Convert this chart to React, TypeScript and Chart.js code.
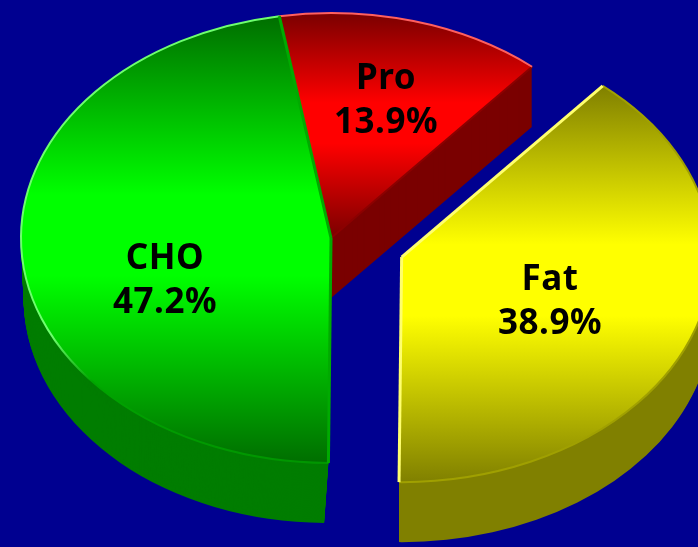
import React, { useEffect, useRef } from "react";
import { Chart, registerables } from "chart.js";

Chart.register(...registerables);

const categories = ["Pro", "Fat", "CHO"];
const shares = [13.9, 38.9, 47.2];
const explode = [0, 179, 0];
const brightColors = ["rgb(255,0,0)", "rgb(255,255,0)", "rgb(0,255,0)"];
const darkColors = ["rgb(122,0,0)", "rgb(128,128,0)", "rgb(0,110,0)"];
const sideColors = ["rgb(122,0,0)", "rgb(128,128,0)", "rgb(0,125,0)"];
const sideTaper = [0, 0, 0.022];

const CX = 331, CY = 238, RX = 310, RY = 225, DEPTH = 60, TAPER_ANCHOR = 136;
const labelCentres = [
  { x: 386, y: 101 },
  { x: 550, y: 302 },
  { x: 165, y: 281 },
];

const FONT = "bold 35px 'Noto Sans'";

let baseRadius = 1;
let trueAngles: { start: number; end: number }[] = [];

function shift(arc: any) {
  const off = (arc.options.offset || 0) / 4;
  const mid = (arc.startAngle + arc.endAngle) / 2;
  return { dx: Math.cos(mid) * off, dy: Math.sin(mid) * off };
}

function applyMap(ctx: CanvasRenderingContext2D, arc: any, d = 0, k = 1) {
  const s = RX / baseRadius;
  const sy = RY / baseRadius;
  ctx.translate(TAPER_ANCHOR + k * (CX - TAPER_ANCHOR), CY + d);
  ctx.scale(s * k, sy);
  ctx.translate(-arc.x, -arc.y);
}

// Range of the slice in its own (already exploded) frame: the arc translates before filling.
function yRange(arc: any, angles: { start: number; end: number }) {
  let lo = arc.y, hi = arc.y;
  for (let i = 0; i <= 120; i++) {
    const a = angles.start + ((angles.end - angles.start) * i) / 120;
    const y = arc.y + baseRadius * Math.sin(a);
    lo = Math.min(lo, y);
    hi = Math.max(hi, y);
  }
  return { lo, hi };
}

const edgeLine = (
  ctx: CanvasRenderingContext2D,
  arc: any,
  from: number,
  to: number,
  style: string | CanvasGradient,
  width: number
) => {
  const { dx, dy } = shift(arc);
  ctx.save();
  applyMap(ctx, arc);
  ctx.beginPath();
  ctx.arc(arc.x + dx, arc.y + dy, baseRadius, from, to);
  ctx.restore();
  ctx.strokeStyle = style;
  ctx.lineWidth = width;
  ctx.stroke();
};

const radialLine = (
  ctx: CanvasRenderingContext2D,
  arc: any,
  angle: number,
  style: string,
  width: number
) => {
  const { dx, dy } = shift(arc);
  ctx.save();
  applyMap(ctx, arc);
  ctx.beginPath();
  ctx.moveTo(arc.x + dx, arc.y + dy);
  ctx.lineTo(arc.x + dx + baseRadius * Math.cos(angle), arc.y + dy + baseRadius * Math.sin(angle));
  ctx.restore();
  ctx.strokeStyle = style;
  ctx.lineWidth = width;
  ctx.lineCap = "butt";
  ctx.stroke();
};

const pie3d = {
  id: "pie3d",
  beforeDatasetsDraw(chart: any) {
    const ctx: CanvasRenderingContext2D = chart.ctx;
    const arcs = chart.getDatasetMeta(0).data;
    baseRadius = arcs[0].outerRadius;
    trueAngles = arcs.map((a: any) => ({ start: a.startAngle, end: a.endAngle }));

    arcs.forEach((arc: any, i: number) => {
      // Chart.js widens an exploded slice's radius and narrows its sweep; undo both
      // so that every slice lies on one radius with its true angles.
      const off = (arc.options.offset || 0) / 4;
      const fix = 1 - Math.sin(Math.min(Math.PI, arc.circumference || 0));
      const radOff = off * fix;
      arc.outerRadius = baseRadius - radOff;
      const widen = radOff / Math.PI / baseRadius / 2;
      arc.startAngle -= widen;
      arc.endAngle += widen;
      const { lo, hi } = yRange(arc, trueAngles[i]);
      const g = ctx.createLinearGradient(0, lo, 0, hi);
      g.addColorStop(0, darkColors[i]);
      g.addColorStop(0.4, brightColors[i]);
      g.addColorStop(0.58, brightColors[i]);
      g.addColorStop(1, darkColors[i]);
      arc.options = { ...arc.options, backgroundColor: g };
    });

    for (let d = DEPTH; d >= 1; d--) {
      arcs.forEach((arc: any, i: number) => {
        const saved = arc.options;
        arc.options = { ...saved, backgroundColor: sideColors[i] };
        ctx.save();
        applyMap(ctx, arc, d, 1 - (sideTaper[i] * d) / DEPTH);
        arc.draw(ctx);
        ctx.restore();
        arc.options = saved;
      });
    }

    ctx.save();
    applyMap(ctx, arcs[0]);
  },
  afterDatasetsDraw(chart: any) {
    const ctx: CanvasRenderingContext2D = chart.ctx;
    ctx.restore();
    const [pro, fat, cho] = chart.getDatasetMeta(0).data;
    const [proA, fatA, choA] = trueAngles;

    // Pro edges
    radialLine(ctx, pro, proA.end, "rgb(140,0,0)", 2);
    edgeLine(ctx, pro, proA.start, proA.end, "rgb(255,95,95)", 2);

    // Fat edges
    edgeLine(ctx, fat, fatA.start, fatA.end, "rgb(160,160,0)", 2);
    radialLine(ctx, fat, fatA.start, "rgb(255,255,110)", 3);
    radialLine(ctx, fat, fatA.end, "rgb(255,255,110)", 3);

    // CHO edges
    const rim = ctx.createLinearGradient(0, 13, 0, 462);
    rim.addColorStop(0, "rgb(110,255,110)");
    rim.addColorStop(0.72, "rgb(110,255,110)");
    rim.addColorStop(0.82, "rgb(0,165,0)");
    rim.addColorStop(1, "rgb(0,150,0)");
    edgeLine(ctx, cho, choA.start, choA.end, rim, 2);
    radialLine(ctx, cho, choA.start, "rgb(0,170,0)", 3);
    radialLine(ctx, cho, choA.end, "rgb(0,170,0)", 3);

    // Labels
    ctx.fillStyle = "#000000";
    ctx.font = FONT;
    (ctx as any).letterSpacing = "0.5px";
    ctx.textAlign = "center";
    ctx.textBaseline = "middle";
    categories.forEach((name, i) => {
      const p = labelCentres[i];
      ctx.fillText(name, p.x, p.y - 22);
      ctx.fillText(`${shares[i].toFixed(1)}%`, p.x, p.y + 22);
    });
  },
};

export default function App() {
  const ref = useRef<HTMLCanvasElement | null>(null);
  useEffect(() => {
    if (!ref.current) return;
    const chart = new Chart(ref.current, {
      type: "pie",
      data: {
        labels: categories,
        datasets: [
          {
            data: shares,
            backgroundColor: brightColors,
            borderWidth: 0,
            offset: explode,
            clip: false,
          } as any,
        ],
      },
      options: {
        responsive: false,
        animation: false,
        rotation: -9.6,
        layout: { padding: 0 },
        plugins: { legend: { display: false }, tooltip: { enabled: false } },
      },
      plugins: [pie3d],
    } as any);
    return () => chart.destroy();
  }, []);
  return (
    <div style={{ position: "absolute", left: 0, top: 0, width: 698, height: 547, overflow: "hidden" }}>
      <canvas ref={ref} width={698} height={547} style={{ display: "block", background: "#000090" }} />
    </div>
  );
}
